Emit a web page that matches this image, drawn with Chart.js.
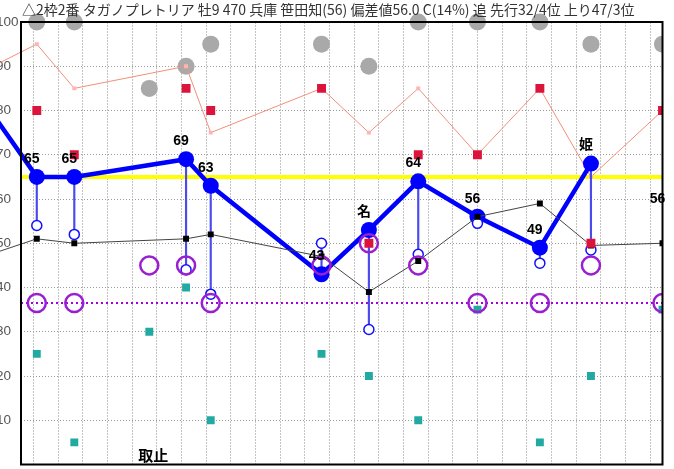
<!DOCTYPE html>
<html>
<head>
<meta charset="utf-8">
<script src="https://cdn.jsdelivr.net/npm/chart.js@4.4.0/dist/chart.umd.min.js"></script>
<style>
  html, body { margin: 0; padding: 0; background: #fff; overflow: hidden; }
  body { width: 674px; height: 469px; position: relative; }
  #chart { position: absolute; left: -20px; top: 0; }
</style>
</head>
<body>
<canvas id="chart" width="694" height="476"></canvas>
<script>
const titleText = '△2枠2番 タガノプレトリア 牡9 470 兵庫 笹田知(56) 偏差値56.0 C(14%) 追 先行32/4位 上り47/3位';

// race positions on the time axis (first one is just off the left edge)
const raceX = [-1.5, 0.64, 2.16, 5.2, 6.69, 7.69, 12.18, 14.1, 16.1, 18.5, 21.03, 23.1, 26];

// deviation per race (thick blue), null = scratched
const deviation = [82, 65, 65, null, 69, 63, 43, 53, 64, 56, 49, 68, 56];
const notes = ['', '', '', '取止', '', '', '', '名', '', '', '', '姫', ''];
const subIndex = [null, 54, 52, null, 44, 38.5, 50, 30.5, 47.5, 54.5, 45.5, 48.5, null];
const pace = [89, 95, 85, null, 90, 75, 85, 75, 85, 70, 85, 65, 80];
const field = [null, 80, 70, null, 85, 80, 85, 50, 70, 70, 85, 50, 80];
const rating = [null, 100, 100, 85, 90, 95, 95, 90, 100, 100, 100, 95, 95];
const lastRun = [47, 51, 50, null, 51, 52, 47, 39, 46, 56, 59, 49.5, 50];
const position = [null, 36.5, 36.5, 45, 45, 36.5, 45, 50, 45, 36.5, 36.5, 45, 36.5];
const weight = [null, 25, 5, 30, 40, 10, 25, 20, 10, 35, 5, 20, 35];

const baseLine = 65;     // yellow reference level
const avgPosition = 36.5; // purple dotted level
const yTicks = [0, 10, 20, 30, 40, 50, 60, 70, 80, 90, 100];

const xMin = 0, xMax = 26;
const last = raceX.length - 1;
const pts = arr => arr.map((v, i) => ({ x: raceX[i], y: v }));
const clipArea = { left: 30, top: 12, right: 0, bottom: 0 };
const gap = ctx => ctx.p1DataIndex - ctx.p0DataIndex > 1;

const sticks = deviation.map((v, i) =>
  (v != null && subIndex[i] != null) ? { x: raceX[i], y: [subIndex[i], v] } : null
).filter(Boolean);

const overlay = {
  id: 'overlay',
  afterDatasetsDraw(chart) {
    const { ctx, chartArea: a, scales } = chart;
    ctx.save();
    // frame
    ctx.strokeStyle = '#000';
    ctx.lineWidth = 2;
    ctx.strokeRect(a.left, a.top, a.right - a.left, a.bottom - a.top);

    // title
    ctx.fillStyle = '#333';
    ctx.font = "14px 'Noto Sans CJK JP'";
    ctx.textAlign = 'left';
    ctx.textBaseline = 'middle';
    ctx.fillText(titleText, a.left + 1, 10);

    // labels over the deviation points
    ctx.fillStyle = '#000';
    ctx.textAlign = 'center';
    deviation.forEach((v, i) => {
      const x = scales.x.getPixelForValue(raceX[i]);
      if (v == null) {
        if (!notes[i]) return;
        ctx.font = "bold 15px 'Noto Sans CJK JP'";
        ctx.fillText(notes[i], x + 4, scales.y.getPixelForValue(2));
        return;
      }
      if (i === 0) return;
      const y = scales.y.getPixelForValue(v);
      ctx.font = "bold 14px 'Liberation Sans', 'Noto Sans CJK JP'";
      ctx.fillText(notes[i] || String(v), x - 5, y - 18);
    });
    ctx.restore();
  }
};

new Chart(document.getElementById('chart'), {
  type: 'line',
  data: {
    datasets: [
      {
        data: pts(field), showLine: false, order: 1, clip: clipArea,
        pointStyle: 'rect', pointRadius: 6.3, backgroundColor: '#dc143c', borderColor: '#dc143c', borderWidth: 0
      },
      {
        data: pts(position), showLine: false, order: 2, clip: clipArea,
        pointRadius: 9, borderWidth: 2.5, borderColor: '#9a1fd0', backgroundColor: 'rgba(0,0,0,0)'
      },
      {
        data: pts(lastRun), order: 3, clip: clipArea, spanGaps: true,
        borderColor: '#444', borderWidth: 1,
        pointStyle: 'rect', pointRadius: 4.2, backgroundColor: '#000',
        pointBorderWidth: 0, pointBackgroundColor: '#000',
        segment: { borderColor: ctx => gap(ctx) ? '#b0b0b0' : '#444' }
      },
      {
        data: pts(subIndex), showLine: false, order: 4, clip: clipArea,
        pointRadius: 5, borderWidth: 1.5, borderColor: '#1010ff', backgroundColor: '#fff'
      },
      {
        data: pts(deviation), order: 5, clip: clipArea, spanGaps: true,
        borderColor: '#0000ff', borderWidth: 4.5, backgroundColor: '#0000ff',
        pointRadius: deviation.map((v, i) => i === last ? 0 : 8),
        pointBorderWidth: 0,
        segment: {
          borderColor: ctx => ctx.p1DataIndex === last ? 'rgba(0,0,0,0)' : '#0000ff',
          borderWidth: ctx => gap(ctx) ? 1.2 : 4.5,
          borderDash: ctx => gap(ctx) ? [4, 3] : []
        }
      },
      {
        type: 'bar', data: sticks, order: 6, clip: clipArea, grouped: false,
        barThickness: 1.5, backgroundColor: '#4a4aee', borderWidth: 0
      },
      {
        data: pts(weight), showLine: false, order: 7, clip: clipArea,
        pointStyle: 'rect', pointRadius: 5.6, backgroundColor: '#22aaa2', borderWidth: 0
      },
      {
        data: pts(pace), order: 8, clip: clipArea, spanGaps: true,
        borderColor: '#f0907a', borderWidth: 1,
        pointStyle: 'rect', pointRadius: 2.8, pointBackgroundColor: '#ffb4b4', pointBorderWidth: 0,
        segment: { borderDash: ctx => gap(ctx) ? [4, 3] : [] }
      },
      {
        data: pts(rating), showLine: false, order: 9, clip: clipArea,
        pointRadius: 8.5, backgroundColor: '#a9a9a9', borderWidth: 0
      },
      {
        data: [{ x: xMin, y: avgPosition }, { x: xMax, y: avgPosition }], order: 10, clip: 0,
        borderColor: '#a400e0', borderWidth: 2, borderDash: [2, 3], pointRadius: 0
      },
      {
        data: [{ x: xMin, y: baseLine }, { x: xMax, y: baseLine }], order: 11, clip: 0,
        borderColor: '#ffff00', borderWidth: 4, pointRadius: 0
      }
    ]
  },
  options: {
    responsive: false,
    animation: false,
    devicePixelRatio: 1,
    layout: { padding: { left: 16, right: 4, top: 22, bottom: 2 } },
    plugins: { legend: { display: false }, title: { display: false }, tooltip: { enabled: false } },
    scales: {
      x: {
        type: 'linear', min: xMin, max: xMax, offset: false,
        afterFit(scale) { scale.height = 0; },
        ticks: { display: false, stepSize: 1 },
        grid: { color: '#c4c4c4', drawTicks: false },
        border: { display: false, dash: [2, 1] }
      },
      y: {
        min: 0, max: 100,
        afterFit(scale) { scale.width = 25; },
        afterBuildTicks(scale) { scale.ticks = yTicks.map(v => ({ value: v })); },
        ticks: {
          crossAlign: 'far', color: '#555',
          font: { family: "'Liberation Sans'", size: 13.5 },
          callback: v => v === 0 ? '' : v
        },
        grid: { color: '#9a9a9a', drawTicks: false },
        border: { display: false, dash: [1, 2] }
      }
    }
  },
  plugins: [overlay]
});
</script>
</body>
</html>
